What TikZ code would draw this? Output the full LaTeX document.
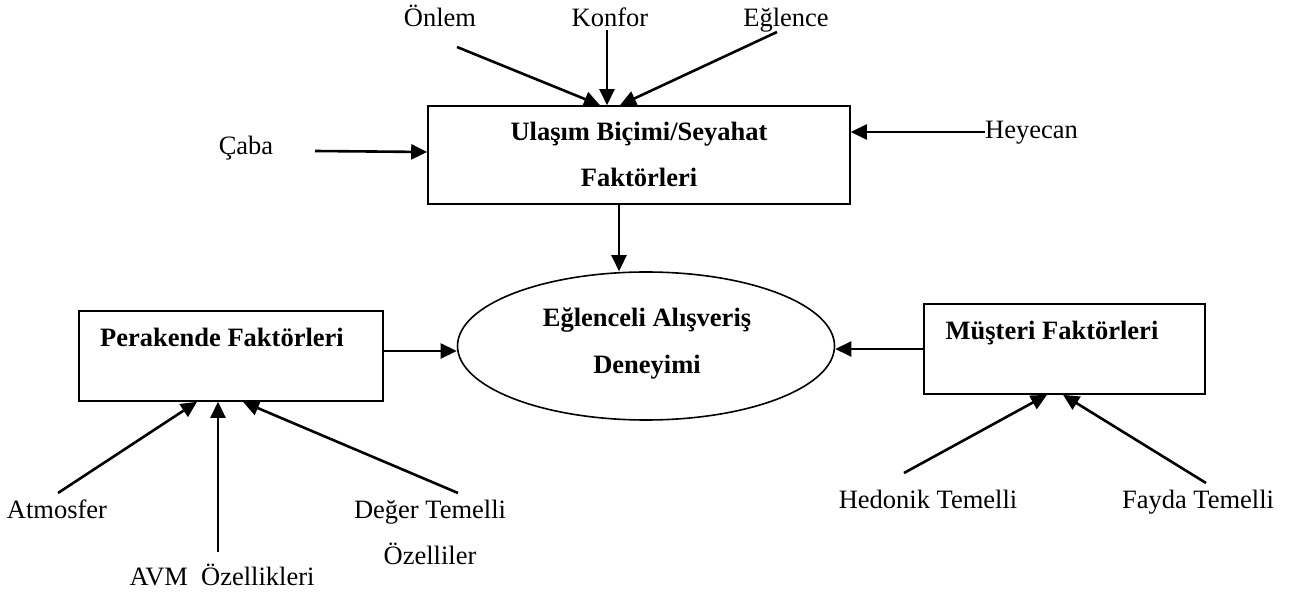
\documentclass[tikz,border=0pt]{standalone}
\usepackage{fontspec}
\setmainfont{Liberation Serif}
\usetikzlibrary{arrows.meta,shapes.geometric}
\begin{document}
\begin{tikzpicture}[x=1pt,y=-1pt,
 box/.style={draw,line width=1.6pt,inner sep=0pt},
 lbl/.style={font=\fontsize{26.5}{30}\selectfont,inner sep=0pt,anchor=base},
 blbl/.style={font=\fontsize{26.5}{30}\selectfont\bfseries,inner sep=0pt,anchor=base},
 arr/.style={line width=2.6pt,-{Triangle[length=16pt,width=15pt]}}]
\useasboundingbox (0,0) rectangle (1296,593);
% boxes
\node[box,minimum width=422pt,minimum height=98pt] (ulasim) at (639,155) {};
\node[box,ellipse,minimum width=377pt,minimum height=148pt] (ell) at (646,346) {};
\node[box,minimum width=304pt,minimum height=90pt] (perak) at (231,356) {};
\node[box,minimum width=281pt,minimum height=90pt] (must) at (1064.5,349) {};
% box texts
\node[blbl] (u1) at (639,141) {Ulaşım Biçimi/Seyahat};
\node[blbl] (u2) at (639,187) {Faktörleri};
\node[blbl] (e1) at (647,327) {Eğlenceli Alışveriş};
\node[blbl] (e2) at (647,374) {Deneyimi};
\node[blbl] (p1) at (222,347) {Perakende Faktörleri};
\node[blbl] (m1) at (1052,340) {Müşteri Faktörleri};
% labels
\node[lbl] (onlem) at (440,27) {Önlem};
\node[lbl] (konfor) at (610,27) {Konfor};
\node[lbl] (eglence) at (786,27) {Eğlence};
\node[lbl] (caba) at (246,155) {Çaba};
\node[lbl,anchor=base west] (heyecan) at (985,139) {Heyecan};
\node[lbl] (atmos) at (57,518) {Atmosfer};
\node[lbl] (avm) at (222,585) {AVM~~Özellikleri};
\node[lbl] (deger) at (430,518) {Değer Temelli};
\node[lbl] (ozel) at (430,564) {Özelliler};
\node[lbl] (hedon) at (928,508) {Hedonik Temelli};
\node[lbl] (fayda) at (1198,508) {Fayda Temelli};
% free ends
\coordinate (onlemS) at (457,47);
\coordinate (konforS) at (607,30);
\coordinate (eglenceS) at (777,32);
\coordinate (cabaS) at (315,151);
\coordinate (heyecanS) at (985,132);
\coordinate (atmosS) at (58,493);
\coordinate (avmS) at (218,552);
\coordinate (degerS) at (458,493);
\coordinate (hedonS) at (904,473);
\coordinate (faydaS) at (1206,483);
% arrows
\draw[arr] (onlemS) -- ([xshift=-39pt]ulasim.north);
\draw[arr] (konforS) -- ([xshift=-32pt]ulasim.north);
\draw[arr] (eglenceS) -- ([xshift=-19pt]ulasim.north);
\draw[arr] (cabaS) -- ([yshift=3pt]ulasim.west);
\draw[arr] (heyecanS) -- (ulasim.east |- heyecanS);
\draw[arr] ([xshift=-20pt]ulasim.south) -- ([xshift=-27pt]ell.north);
\draw[arr] ([yshift=5pt]perak.east) -- ([yshift=-5pt]ell.west);
\draw[arr] (must.west) -- ([yshift=-3pt]ell.east);
\draw[arr] (atmosS) -- ([xshift=-34pt]perak.south);
\draw[arr] (avmS) -- ([xshift=-13pt]perak.south);
\draw[arr] (degerS) -- ([xshift=12pt]perak.south);
\draw[arr] (hedonS) -- ([xshift=-17.5pt]must.south);
\draw[arr] (faydaS) -- ([xshift=-1.5pt]must.south);
\end{tikzpicture}
\end{document}
